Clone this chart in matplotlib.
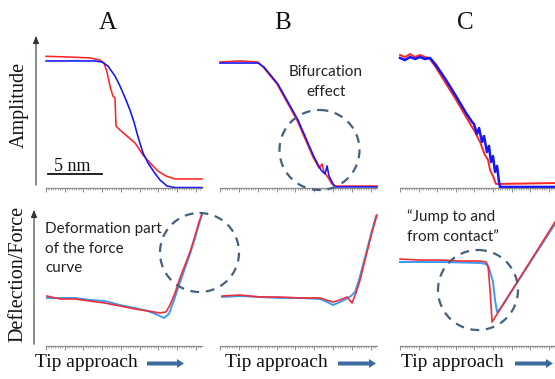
import matplotlib
matplotlib.use("Agg")
import matplotlib.pyplot as plt
from matplotlib.patches import Ellipse, FancyArrow
from matplotlib.ticker import MultipleLocator

# ---------------- data (normalised panel units, 0-100) ----------------
# Top row: amplitude vs tip approach
ampA_red_x = [0, 15.4, 28.2, 34.6, 37.2, 39.1, 41.0, 42.9, 44.2, 44.9, 47.4, 52.6, 57.1, 62.2, 66.7, 71.8, 76.9, 82.7, 100]
ampA_red_y = [87.8, 87.3, 86.7, 85.3, 83.3, 77.3, 68.0, 61.3, 60.0, 41.3, 38.7, 34.0, 30.0, 22.0, 16.7, 11.3, 8.0, 6.0, 6.0]
ampA_blue_x = [0, 31.4, 35.9, 39.7, 44.2, 47.4, 51.3, 53.8, 56.4, 59.0, 62.2, 65.4, 69.2, 73.1, 77.6, 82.7, 100]
ampA_blue_y = [84.7, 84.7, 84.0, 81.3, 74.7, 68.0, 58.7, 52.0, 44.0, 34.0, 23.3, 16.7, 10.7, 5.3, 1.3, 0.3, 0.3]

ampB_red_x = [0, 12.7, 24.2, 27.4, 36.3, 49.0, 59.2, 63.1, 65.0, 66.2, 68.2, 71.3, 73.2, 100]
ampB_red_y = [84.0, 84.7, 84.0, 80.7, 69.3, 45.3, 20.7, 13.3, 16.0, 10.7, 8.0, 2.7, 1.3, 1.3]
ampB_blue_x = [0, 24.2, 28.0, 36.9, 49.7, 59.9, 64.3, 66.9, 68.2, 69.4, 72.0, 73.9, 100]
ampB_blue_y = [83.3, 83.3, 80.7, 69.3, 45.3, 20.7, 12.0, 9.3, 14.7, 8.0, 2.7, 0.7, 0.7]

ampC_red_x = [0, 3.2, 6.5, 9.7, 12.9, 16.1, 18.7, 22.6, 29.0, 35.5, 41.9, 48.4, 51.6, 54.8, 56.8, 58.1, 60.0, 61.9, 63.9, 100]
ampC_red_y = [88.7, 87.3, 89.3, 87.3, 88.7, 87.3, 86.7, 81.3, 70.7, 60.0, 48.7, 37.3, 30.7, 22.0, 18.7, 12.0, 8.0, 2.7, 2.7, 3.3]
ampC_blue_x = [0, 3.2, 6.5, 9.7, 12.9, 16.1, 19.4, 23.2, 29.7, 36.1, 42.6, 46.5, 47.7, 49.7, 51.0, 52.9, 54.2, 56.1, 57.4, 58.7, 60.0, 61.3, 62.6, 63.9, 64.5, 100]
ampC_blue_y = [86.7, 85.3, 87.3, 86.0, 87.3, 86.0, 86.7, 82.0, 72.0, 61.3, 50.0, 44.0, 42.7, 36.0, 40.0, 30.7, 34.7, 24.0, 28.0, 17.3, 21.3, 10.7, 14.7, 4.0, 0.7, 0.7]

# Bottom row: deflection / force vs tip approach
defA_red_x = [0.6, 9.0, 18.6, 28.2, 37.8, 47.4, 57.1, 65.4, 73.1, 76.9, 79.5, 82.7, 85.9, 89.1, 92.3, 95.5, 98.1, 100]
defA_red_y = [35.7, 33.6, 33.6, 32.1, 30.7, 28.6, 26.4, 25.0, 23.6, 24.3, 29.3, 37.9, 48.6, 57.9, 67.1, 78.6, 88.6, 94.3]
defA_blue_x = [0.6, 9.0, 18.6, 28.2, 37.8, 47.4, 57.1, 65.4, 71.8, 75.6, 78.8, 82.1, 85.3, 89.1, 92.3, 95.5, 98.1, 100]
defA_blue_y = [34.3, 34.3, 34.3, 32.9, 32.1, 29.3, 27.1, 25.0, 22.1, 20.0, 22.9, 32.9, 43.6, 55.7, 65.7, 77.1, 87.1, 94.3]

defB_red_x = [1.3, 12.7, 25.5, 38.2, 51.0, 63.7, 67.5, 72.0, 76.4, 80.9, 84.1, 86.6, 89.2, 91.7, 94.3, 96.8, 100]
defB_red_y = [35.7, 36.4, 35.0, 35.0, 34.3, 34.3, 32.9, 31.4, 32.9, 35.0, 30.7, 37.9, 47.1, 58.6, 70.0, 81.4, 93.6]
defB_blue_x = [1.3, 12.7, 25.5, 38.2, 51.0, 63.7, 68.2, 72.0, 76.4, 80.3, 83.4, 86.0, 88.5, 91.1, 93.6, 96.2, 99.4]
defB_blue_y = [35.0, 35.7, 35.0, 34.3, 34.3, 33.6, 31.4, 29.3, 31.4, 33.6, 35.7, 38.6, 47.1, 57.9, 68.6, 80.0, 92.9]

defC_red_x = [0, 12.9, 25.8, 38.7, 51.6, 55.5, 56.8, 58.1, 59.4, 100]
defC_red_y = [62.1, 61.4, 61.4, 60.7, 60.7, 60.0, 57.1, 40.0, 17.1, 88.6]
defC_blue_x = [0, 25.8, 51.6, 55.5, 57.4, 58.7, 60.0, 61.3, 62.6, 64.5, 100]
defC_blue_y = [60.0, 60.0, 59.3, 58.6, 55.7, 50.7, 45.7, 32.9, 24.3, 26.4, 87.1]

panel_titles = ["A", "B", "C"]
top_ylabel = "Amplitude"
bottom_ylabel = "Deflection/Force"
xlabel_text = "Tip approach"
scale_text = "5 nm"

# ---------------- figure ----------------
W, H = 555, 379
fig = plt.figure(figsize=(W / 100, H / 100), dpi=100)
fig.patch.set_facecolor("white")

SERIF = "Liberation Serif"
SANS = "Lato"

RED = "#ff2424"
BLUE = "#1414ff"
RED2 = "#f02c3c"
BLUE2 = "#3a9cf0"
CIRC = "#46607e"
ARROW = "#3c6a9e"


def px_axes(x0, x1, ytop, ybot):
    return fig.add_axes([x0 / W, (H - ybot) / H, (x1 - x0) / W, (ybot - ytop) / H])


def style_axes(ax):
    ax.set_xlim(0, 100)
    ax.set_ylim(0, 100)
    for s in ["top", "right", "left"]:
        ax.spines[s].set_visible(False)
    ax.spines["bottom"].set_color("#8a8a8a")
    ax.spines["bottom"].set_linewidth(0.9)
    ax.patch.set_alpha(0)
    ax.set_yticks([])
    ax.xaxis.set_major_locator(MultipleLocator(12))
    ax.xaxis.set_minor_locator(MultipleLocator(1.5))
    ax.tick_params(axis="x", which="major", length=2.6, width=0.7, color="#8a8a8a", labelbottom=False)
    ax.tick_params(axis="x", which="minor", length=1.4, width=0.55, color="#9a9a9a")


xr = [(46, 202), (220, 377), (400, 555)]

top_data = [
    (ampA_blue_x, ampA_blue_y, ampA_red_x, ampA_red_y),
    (ampB_blue_x, ampB_blue_y, ampB_red_x, ampB_red_y),
    (ampC_red_x, ampC_red_y, ampC_blue_x, ampC_blue_y),
]
for i, (x0, x1) in enumerate(xr):
    ax = px_axes(x0, x1, 38, 188)
    style_axes(ax)
    d = top_data[i]
    if i < 2:
        ax.plot(d[2], d[3], color=RED, lw=1.15, clip_on=False)
        ax.plot(d[0], d[1], color=BLUE, lw=1.15, clip_on=False)
    else:
        ax.plot(d[0], d[1], color=RED, lw=1.4, clip_on=False)
        ax.plot(d[2], d[3], color=BLUE, lw=1.8, clip_on=False)

bot_data = [
    (defA_blue_x, defA_blue_y, defA_red_x, defA_red_y),
    (defB_blue_x, defB_blue_y, defB_red_x, defB_red_y),
    (defC_blue_x, defC_blue_y, defC_red_x, defC_red_y),
]
for i, (x0, x1) in enumerate(xr):
    ax = px_axes(x0, x1, 206, 346)
    style_axes(ax)
    d = bot_data[i]
    ax.plot(d[0], d[1], color=BLUE2, lw=1.4, clip_on=False)
    ax.plot(d[2], d[3], color=RED2, lw=1.2, clip_on=False)

# ---------------- overlay (annotations in pixel space) ----------------
ov = fig.add_axes([0, 0, 1, 1], zorder=10)
ov.set_xlim(0, W)
ov.set_ylim(H, 0)
ov.axis("off")
ov.patch.set_alpha(0)

for t, x in zip(panel_titles, [108, 283, 465]):
    ov.text(x, 23, t, family=SERIF, fontsize=18, ha="center", va="center", color="#111")

ov.text(19, 105, top_ylabel, family=SERIF, fontsize=14.5, rotation=90, ha="center", va="center", color="#111")
ov.text(18, 274, bottom_ylabel, family=SERIF, fontsize=14.5, rotation=90, ha="center", va="center", color="#111")

# vertical axis arrows
for (xa, yb, yt) in [(36, 188, 33), (34, 347, 207)]:
    ov.annotate("", xy=(xa, yt), xytext=(xa, yb),
                arrowprops=dict(arrowstyle="-|>,head_length=0.45,head_width=0.18", lw=0.8, color="#333"))

# scale bar
ov.plot([48, 102], [174, 174], color="#111", lw=1.3)
ov.text(72, 171, scale_text, family=SERIF, fontsize=13, ha="center", va="baseline", color="#111")

# tip approach labels + arrows
for xt, (ax0, ax1) in zip([35, 225, 401], [(147, 184), (338, 376), (515, 553)]):
    ov.text(xt, 367, xlabel_text, family=SERIF, fontsize=14, ha="left", va="baseline", color="#111")
    ov.add_patch(FancyArrow(ax0, 363.5, ax1 - ax0 - 7, 0, width=4, head_width=9, head_length=7,
                            length_includes_head=False, color=ARROW, lw=0))

# dashed circles
for (cx, cy, r) in [(319.5, 150, 40), (199.5, 252.5, 39.5), (478, 290, 40)]:
    ov.add_patch(Ellipse((cx, cy), 2 * r, 2 * r, fill=False, ec=CIRC, lw=1.6, ls=(0, (4, 3))))

# annotation texts
FS = 11
ov.text(326, 72, "Bifurcation", family=SANS, fontsize=FS, ha="center", va="center", color="#222")
ov.text(326, 92, "effect", family=SANS, fontsize=FS, ha="center", va="center", color="#222")
for s, y in [("Deformation part", 229), ("of the force", 249), ("curve", 268)]:
    ov.text(45, y, s, family=SANS, fontsize=FS, ha="left", va="center", color="#222")
for s, y in [("\u201cJump to and", 217), ("from contact\u201d", 237)]:
    ov.text(407, y, s, family=SANS, fontsize=FS, ha="left", va="center", color="#222")

fig.savefig("out.png", dpi=100)
